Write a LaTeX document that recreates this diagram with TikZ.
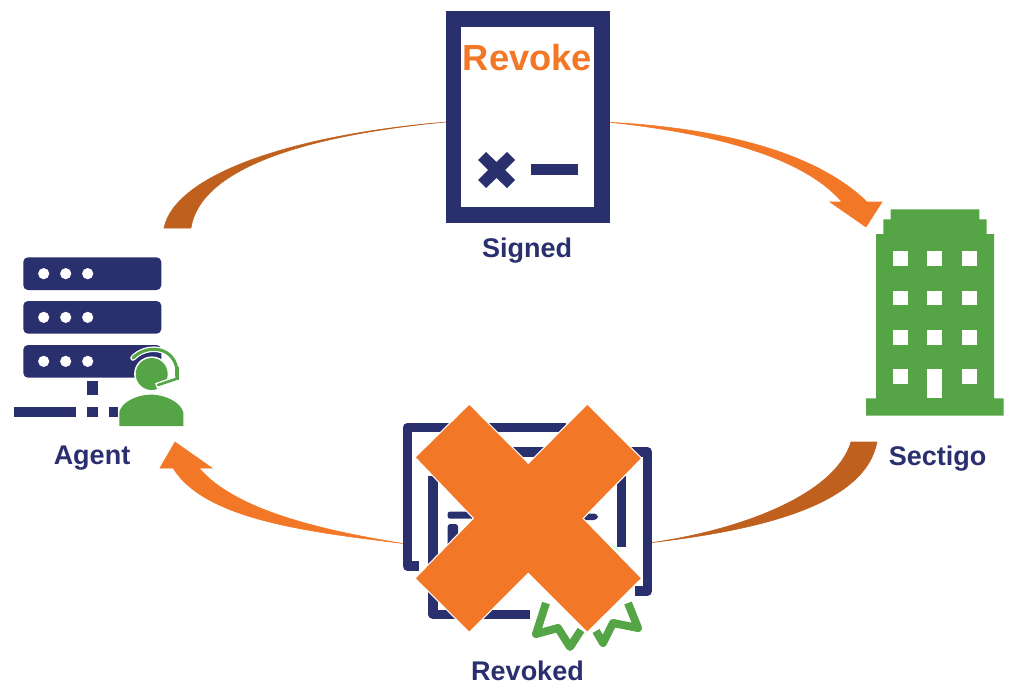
\documentclass[tikz,border=0pt]{standalone}
\usepackage{fontspec}
\setmainfont{Liberation Sans}
\definecolor{navy}{HTML}{2A2F6E}
\definecolor{orng}{HTML}{F27726}
\definecolor{dkorng}{HTML}{C0601E}
\definecolor{grn}{HTML}{55A546}
\tikzset{
  px/.style={x=0.75pt,y=-0.75pt},
  lbl/.style={inner sep=0pt,anchor=base,text=navy,font=\fontsize{20.25}{24}\selectfont\bfseries},
  navyfill/.style={fill=navy,draw=none},
  grnfill/.style={fill=grn,draw=none},
  hole/.style={fill=white,draw=none},
  certbar/.style={draw=navy,line width=7.1pt,line join=round},
  ribbon/.style={draw=grn,line width=6pt,line join=round},
  dot/.style={fill=white,draw=none},
  arcdark/.style={fill=dkorng,draw=dkorng,line width=0.4pt},
  arclight/.style={fill=orng,draw=orng,line width=0.4pt}
}
\begin{document}
\begin{tikzpicture}[px]
\useasboundingbox (0,0) rectangle (1024,697);
\fill[white] (0,0) rectangle (1024,697);
% connector end points
\coordinate (tlA) at (164,228); \coordinate (tlB) at (191,228); \coordinate (tlEnd) at (446,122);
\coordinate (trStart) at (610,122.3); \coordinate (trTip) at (866,227);
\coordinate (brA) at (851,442); \coordinate (brB) at (877,442); \coordinate (brEnd) at (652,542.5);
\coordinate (blStart) at (403,543.5); \coordinate (blTip) at (175,442);
% connectors
\draw[arcdark] (tlA) .. controls (175,175) and (290,135) .. (tlEnd) .. controls (300,136) and (200,170) .. (tlB) -- cycle;
\draw[arclight] (trStart) .. controls (700,127) and (810,146) .. (867,202) -- (882,202) -- (trTip) -- (830,202) -- (842,202) .. controls (800,153) and (700,132) .. (trStart) -- cycle;
\draw[arcdark] (brA) .. controls (835,495) and (740,530) .. (brEnd) .. controls (760,530) and (865,505) .. (brB) -- cycle;
\draw[arclight] (blStart) .. controls (320,530) and (235,510) .. (199,468) -- (212,468) -- (blTip) -- (160,468) -- (173,468) .. controls (205,520) and (310,532) .. (blStart) -- cycle;
% document
\fill[navyfill] (445.7,11) rectangle (610,222.7);
\fill[hole] (461.3,26.7) rectangle (594,207);
\node[lbl,text=orng,font=\fontsize{27.2}{30}\selectfont\bfseries] (revoke) at (527.5,70) {Revoke};
\fill[navy] (478,160) -- (486,152) -- (496.5,162) -- (507,152) -- (515,160) -- (505,170) -- (515,180) -- (507,188) -- (496.5,178) -- (486,188) -- (478,180) -- (488,170) -- cycle;
\fill[navyfill] (530.7,164.3) rectangle (578,175);
\node[lbl] (signed) at (527,257) {Signed};
% building
\fill[grnfill] (890.7,209.3) -- (979.3,209.3) -- (979.3,219.3) -- (986.7,219.3) -- (986.7,234) -- (994,234) -- (994,398.3) -- (1003.7,398.3) -- (1003.7,415.7) -- (866,415.7) -- (866,398.3) -- (876,398.3) -- (876,234) -- (883.3,234) -- (883.3,219.3) -- (890.7,219.3) -- cycle;
\foreach \wy/\wh in {251.3/266,290.7/305.3,329.7/344.7}{
  \foreach \wx/\wr in {893.3/908,927.3/942.3,962/976.7}{
    \fill[hole] (\wx,\wy) rectangle (\wr,\wh);
  }
}
\fill[hole] (893.3,369.3) rectangle (908,384);
\fill[hole] (927.3,369.3) rectangle (942.3,398.3);
\fill[hole] (962,369.3) rectangle (976.7,384);
\node[lbl] (sectigo) at (937.5,465) {Sectigo};
% agent: server
\foreach \by/\be in {257.3/290,301/333.7,345/377.7}{
  \fill[navyfill,rounded corners=3.5pt] (23.3,\by) rectangle (161.3,\be);
  \foreach \dx in {43.7,65.7,87.7}{
    \fill[dot] (\dx,{(\by+\be)/2}) circle[radius=4.2pt];
  }
}
\fill[navyfill] (86.7,380.7) rectangle (97.7,395.3);
\fill[navyfill] (86.7,406.7) rectangle (97.7,417.3);
\fill[navyfill] (14.3,406.7) rectangle (75.7,417.3);
\fill[navyfill] (108.7,406.7) rectangle (118.3,417.3);
% agent: person
\draw[white,line width=4.2pt,line cap=round] (133,358) .. controls (145,345) and (172,345) .. (176.7,368);
\fill[white] (151.7,374) circle[radius=13.2pt];
\draw[grn,line width=2.3pt,line cap=round] (133,358) .. controls (145,345) and (172,345) .. (176.7,368);
\fill[grn] (174.5,367) rectangle (178.7,379.5);
\fill[grn] (151.7,374) circle[radius=12pt];
\draw[white,line width=4.4pt] (176,379) -- (156,386);
\draw[grn,line width=2pt,line cap=round] (176,379) -- (158,385);
\fill[grn] (119.3,426) -- (119.3,412) .. controls (122,402) and (136,395) .. (151,394.5) .. controls (166,395) and (180,402) .. (183.3,412) -- (183.3,426) -- cycle;
\node[lbl] (agent) at (92,464) {Agent};
% certificate (behind the cross)
\draw[certbar,line cap=butt] (566,427.5) -- (407.3,427.5) -- (407.3,566) -- (419,566);
\draw[certbar,line cap=butt] (510,452) -- (647.5,452) -- (647.5,591) -- (635,591);
\draw[certbar,line cap=butt] (433,476) -- (433,614.5) -- (530,614.5);
\draw[certbar,line cap=butt] (621.7,476) -- (621.7,547);
\fill[navy,rounded corners=1.5pt] (447.7,511.7) rectangle (480,518.5);
\fill[navy,rounded corners=2pt] (447.7,524) rectangle (458,548);
\fill[navy,rounded corners=3pt] (575,513.5) rectangle (598,520);
\draw[green!30!white,line width=0.5pt] (610,543) -- (620,552);
\draw[ribbon] (546,603) -- (536,634) -- (558,628) -- (570,647) -- (581,630);
\draw[ribbon] (596,631) -- (603,643) -- (613,623) -- (638,628) -- (628,603);
% cross
\fill[orng,draw=white,line width=0.8pt,line join=miter] (469.3,404) -- (415,457.3) -- (473.3,518.3) -- (415,578.3) -- (469.3,632.3) -- (528.3,573.3) -- (587.3,632.3) -- (641.7,578.3) -- (583.3,518.3) -- (641.7,458.3) -- (587.3,404) -- (528.3,463.3) -- cycle;
\node[lbl] (revoked) at (527.5,680) {Revoked};
\end{tikzpicture}
\end{document}
